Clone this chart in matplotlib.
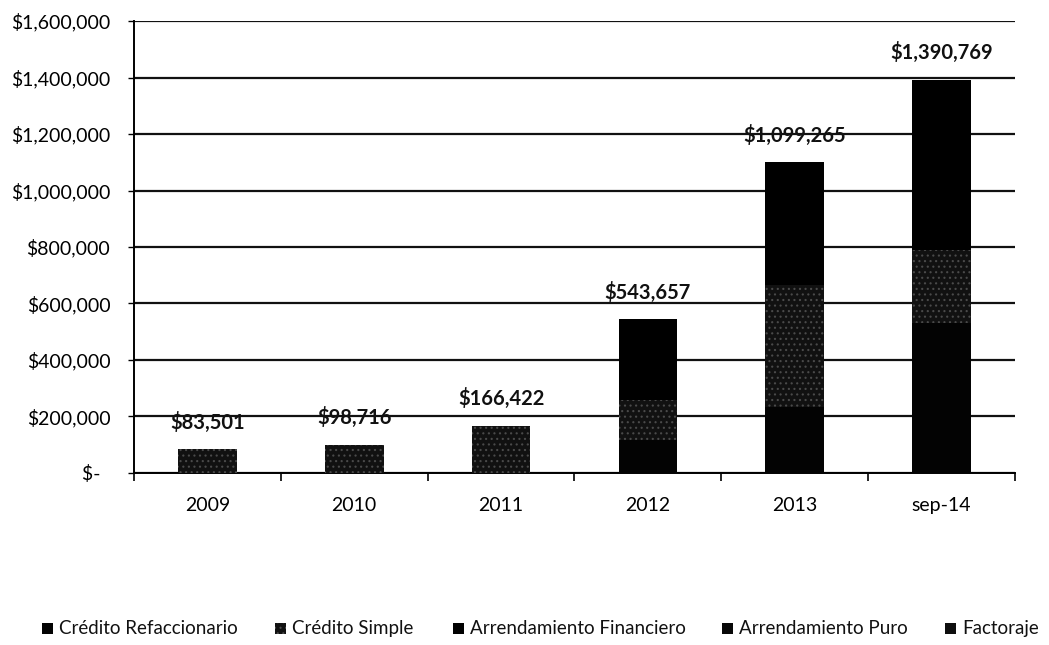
import matplotlib
matplotlib.use("Agg")
import matplotlib.pyplot as plt
from matplotlib.ticker import FuncFormatter, FixedLocator
from matplotlib.patches import Rectangle
import numpy as np

# Portfolio balance by product line (thousands of pesos)
periods = ["2009", "2010", "2011", "2012", "2013", "sep-14"]
series_names = ["Crédito Refaccionario", "Crédito Simple", "Arrendamiento Financiero",
                "Arrendamiento Puro", "Factoraje"]
credito_refaccionario = [0, 0, 0, 117000, 234000, 531000]
credito_simple = [83501, 98716, 166422, 141000, 431000, 258000]
arrendamiento_financiero = [0, 0, 0, 285657, 434265, 601769]
arrendamiento_puro = [0, 0, 0, 0, 0, 0]
factoraje = [0, 0, 0, 0, 0, 0]
totals = [83501, 98716, 166422, 543657, 1099265, 1390769]

plt.rcParams["font.family"] = ["Lato", "DejaVu Sans"]
plt.rcParams["hatch.linewidth"] = 0.8

W, H = 1049, 645
fig = plt.figure(figsize=(W / 100, H / 100), dpi=100)
ax = fig.add_axes([0.1277, 0.2667, 0.8399, 0.7007])

x = np.arange(len(periods))
width = 0.40
styles = [
    dict(facecolor="#030303", edgecolor="#030303"),
    dict(facecolor="#111111", hatch="...", edgecolor="#4a4a4a"),
    dict(facecolor="#000000", edgecolor="#000000"),
    dict(facecolor="#080808", edgecolor="#080808"),
    dict(facecolor="#0e0e0e", edgecolor="#0e0e0e"),
]
data = [credito_refaccionario, credito_simple, arrendamiento_financiero,
        arrendamiento_puro, factoraje]
bottom = np.zeros(len(periods))
for name, vals, st in zip(series_names, data, styles):
    vals = np.array(vals, dtype=float)
    ax.bar(x, vals, width, bottom=bottom, label=name, zorder=3, linewidth=0, **st)
    bottom += vals

for xi, tot in zip(x, totals):
    ax.annotate(f"${tot:,.0f}", (xi, tot), xytext=(0, 12), textcoords="offset points",
                ha="center", va="bottom", fontsize=14.5, fontweight="bold", color="#111111",
                zorder=4)

ax.set_xlim(-0.5, len(periods) - 0.5)
ax.set_ylim(0, 1600000)
ax.set_yticks(np.arange(0, 1600001, 200000))

def money(v, pos):
    if v == 0:
        return "$-  "
    return f"${v:,.0f}"

ax.yaxis.set_major_formatter(FuncFormatter(money))
ax.grid(axis="y", color="#111111", linewidth=1.6, zorder=0)
ax.set_axisbelow(True)

ax.set_xticks(x)
ax.set_xticklabels(periods)
ax.tick_params(axis="x", which="major", length=0, pad=17, labelsize=14)
ax.xaxis.set_minor_locator(FixedLocator(np.arange(-0.5, len(periods), 1.0)))
ax.tick_params(axis="x", which="minor", length=6, width=1.2, direction="out")
ax.tick_params(axis="y", length=4, width=1.0, direction="out", labelsize=14, pad=13)

for s in ["top", "right"]:
    ax.spines[s].set_visible(False)
ax.spines["left"].set_linewidth(1.4)
ax.spines["bottom"].set_linewidth(1.4)

# Legend row along the bottom, one swatch + label per series on a shared baseline
swatch_px = [42, 275, 453, 722, 945]
size = 11
baseline_y = 1 - 634 / H
for px, name, st in zip(swatch_px, series_names, styles):
    fig.patches.append(Rectangle((px / W, (H - 628 - size / 2) / H), size / W, size / H,
                                 transform=fig.transFigure, linewidth=0, **st))
    fig.text((px + size + 6) / W, baseline_y, name, fontsize=13.5, va="baseline",
             ha="left", color="#111111")

fig.savefig("out.png", dpi=100)
